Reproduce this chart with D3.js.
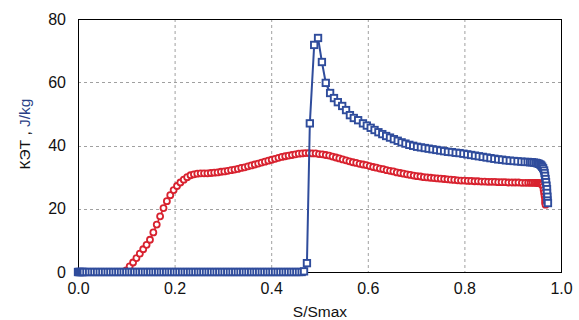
<!DOCTYPE html>
<html><head><meta charset="utf-8">
<script src="https://cdn.jsdelivr.net/npm/d3@7"></script>
<style>body{margin:0;background:#fff}svg{display:block}text{font-family:"Liberation Sans",Arial,sans-serif}</style>
</head><body>
<svg id="c" width="579" height="320"></svg>
<script>
const xTicks=[0,0.2,0.4,0.6,0.8,1.0];
const yTicks=[0,20,40,60,80];
const xTickLabels=["0.0","0.2","0.4","0.6","0.8","1.0"];
const yTickLabels=["0","20","40","60","80"];

const redX=[0.100,0.107,0.114,0.121,0.128,0.135,0.142,0.149,0.156,0.163,0.170,0.177,0.184,0.191,0.198,0.205,0.212,0.219,0.226,0.233,0.240,0.247,0.254,0.261,0.268,0.275,0.282,0.289,0.296,0.303,0.310,0.317,0.324,0.331,0.338,0.345,0.352,0.359,0.366,0.373,0.380,0.387,0.394,0.401,0.408,0.415,0.422,0.429,0.436,0.443,0.450,0.457,0.464,0.471,0.478,0.485,0.492,0.499,0.506,0.513,0.520,0.527,0.534,0.541,0.548,0.555,0.562,0.569,0.576,0.583,0.590,0.597,0.604,0.611,0.618,0.625,0.632,0.639,0.646,0.653,0.660,0.667,0.674,0.681,0.688,0.695,0.702,0.709,0.716,0.723,0.730,0.737,0.744,0.751,0.758,0.765,0.772,0.779,0.786,0.793,0.800,0.807,0.814,0.821,0.828,0.835,0.842,0.849,0.856,0.863,0.870,0.877,0.884,0.891,0.898,0.905,0.912,0.919,0.926,0.932,0.937,0.941,0.945,0.948,0.951,0.953,0.955,0.957,0.959,0.961,0.963,0.964,0.965,0.966,0.967,0.967,0.968];
const redY=[0.5,1.8,3.0,4.4,5.8,7.2,8.6,10.2,12.5,15.0,17.6,20.2,22.4,24.3,25.9,27.2,28.3,29.2,30.0,30.6,30.9,31.1,31.2,31.2,31.2,31.3,31.4,31.5,31.7,31.8,32.0,32.2,32.4,32.6,32.9,33.1,33.4,33.7,34.0,34.3,34.6,34.9,35.2,35.5,35.8,36.1,36.4,36.6,36.8,37.0,37.2,37.4,37.5,37.6,37.6,37.5,37.5,37.3,37.2,37.0,36.8,36.5,36.2,35.9,35.6,35.3,35.0,34.7,34.5,34.2,34.0,33.8,33.5,33.2,33.0,32.7,32.5,32.2,32.0,31.8,31.5,31.3,31.1,30.9,30.7,30.5,30.3,30.2,30.0,29.9,29.8,29.7,29.6,29.5,29.4,29.3,29.2,29.1,29.0,28.9,28.9,28.8,28.8,28.7,28.7,28.6,28.6,28.5,28.5,28.5,28.4,28.4,28.4,28.3,28.3,28.3,28.3,28.2,28.2,28.2,28.2,28.2,28.2,28.2,28.2,28.1,28.1,28.0,27.9,27.6,27.0,26.0,25.0,24.0,23.0,22.0,21.3];

const blueX=[0,0.002,0.004,0.006,0.008,0.010,0.012,0.0175,0.023,0.0285,0.034,0.0395,0.045,0.0505,0.056,0.0615,0.067,0.0725,0.078,0.0835,0.089,0.0945,0.100,0.1055,0.111,0.1165,0.122,0.1275,0.133,0.1385,0.144,0.1495,0.155,0.1605,0.166,0.1715,0.177,0.1825,0.188,0.1935,0.199,0.2045,0.210,0.2155,0.221,0.2265,0.232,0.2375,0.243,0.2485,0.254,0.2595,0.265,0.2705,0.276,0.2815,0.287,0.2925,0.298,0.3035,0.309,0.3145,0.320,0.3255,0.331,0.3365,0.342,0.3475,0.353,0.3585,0.364,0.3695,0.375,0.3805,0.386,0.3915,0.397,0.4025,0.408,0.4135,0.419,0.4245,0.430,0.4355,0.441,0.4465,0.452,0.4575,0.463,0.468,0.474,0.480,0.489,0.497,0.505,0.513,0.522,0.530,0.538,0.547,0.555,0.563,0.571,0.580,0.590,0.598,0.606,0.614,0.622,0.630,0.638,0.646,0.654,0.662,0.670,0.678,0.686,0.694,0.702,0.710,0.718,0.726,0.734,0.742,0.750,0.758,0.766,0.774,0.782,0.790,0.798,0.806,0.814,0.822,0.830,0.838,0.846,0.854,0.862,0.870,0.878,0.886,0.894,0.902,0.910,0.918,0.925,0.931,0.936,0.940,0.944,0.948,0.951,0.954,0.957,0.959,0.961,0.963,0.965,0.966,0.967,0.968,0.969,0.970,0.971,0.971,0.972,0.972,0.973];
const blueY=[0,0,0,0,0,0,0,0,0,0,0,0,0,0,0,0,0,0,0,0,0,0,0,0,0,0,0,0,0,0,0,0,0,0,0,0,0,0,0,0,0,0,0,0,0,0,0,0,0,0,0,0,0,0,0,0,0,0,0,0,0,0,0,0,0,0,0,0,0,0,0,0,0,0,0,0,0,0,0,0,0,0,0,0,0,0,0,0,0,0.2,2.8,47.0,71.8,74.0,66.4,59.8,56.6,55.0,53.7,52.5,51.2,49.6,48.7,48.0,47.0,46.3,45.6,44.9,44.2,43.6,43.0,42.5,42.0,41.5,41.0,40.6,40.2,39.9,39.6,39.4,39.2,39.0,38.8,38.6,38.4,38.2,38.0,37.9,37.7,37.6,37.4,37.2,37.0,36.8,36.6,36.4,36.2,36.0,35.8,35.6,35.5,35.3,35.2,35.1,35.0,34.9,34.8,34.8,34.7,34.7,34.6,34.5,34.4,34.2,34.0,33.7,33.3,32.8,32.1,31.3,30.4,29.4,28.4,27.3,26.2,25.0,23.8,22.6,21.8];

const blue="#2f4c9c", red="#d8222f";
const svg=d3.select("#c");
const L=78,R=561,T=19,B=272;
const x=d3.scaleLinear().domain([0,1]).range([L,R]);
const y=d3.scaleLinear().domain([0,80]).range([B,T]);

// grid
svg.append("g").selectAll("line").data(xTicks.filter(v=>v>0&&v<1)).join("line")
  .attr("x1",d=>x(d)+0.5).attr("x2",d=>x(d)+0.5).attr("y1",T).attr("y2",B)
  .attr("stroke","#a0a0a0").attr("stroke-width",1).attr("stroke-dasharray","3,3");
svg.append("g").selectAll("line").data(yTicks.filter(v=>v>0&&v<80)).join("line")
  .attr("y1",d=>Math.round(y(d))+0.5).attr("y2",d=>Math.round(y(d))+0.5).attr("x1",L).attr("x2",R)
  .attr("stroke","#a0a0a0").attr("stroke-width",1).attr("stroke-dasharray","3,3");

// frame
svg.append("rect").attr("x",L+0.5).attr("y",T+0.5).attr("width",R-L).attr("height",B-T)
  .attr("fill","none").attr("stroke","#000").attr("stroke-width",1);

const xa=svg.append("g").attr("transform",`translate(0,${B})`)
  .call(d3.axisBottom(x).tickValues(xTicks).tickFormat((d,i)=>xTickLabels[i]).tickSize(0).tickPadding(11));
const ya=svg.append("g").attr("transform",`translate(${L},0)`)
  .call(d3.axisLeft(y).tickValues(yTicks).tickFormat((d,i)=>yTickLabels[i]).tickSize(0).tickPadding(12));
[xa,ya].forEach(a=>{a.select(".domain").remove();a.selectAll("text").attr("font-size",16).attr("fill","#111").style("font-family","'Liberation Sans',Arial,sans-serif");});

svg.append("text").attr("x",320).attr("y",317).attr("text-anchor","middle").attr("font-size",15.5).attr("fill","#111").text("S/Smax");
const yl=svg.append("text").attr("transform","translate(30,134) rotate(-90)").attr("text-anchor","middle").attr("font-size",15.5).attr("fill","#111");
yl.append("tspan").text("КЭТ , ");
yl.append("tspan").attr("fill","#2a3f86").text("J/kg");

const redData=redX.map((v,i)=>[v,redY[i]]);
const blueData=blueX.map((v,i)=>[v,blueY[i]]);
const line=d3.line().x(d=>x(d[0])).y(d=>y(d[1]));

svg.append("path").datum(redData).attr("d",line).attr("fill","none").attr("stroke",red).attr("stroke-width",1.5);
svg.append("g").selectAll("circle").data(redData).join("circle")
  .attr("cx",d=>x(d[0])).attr("cy",d=>y(d[1])).attr("r",3)
  .attr("fill","#fff").attr("stroke",red).attr("stroke-width",1.8);

svg.append("path").datum(blueData).attr("d",line).attr("fill","none").attr("stroke",blue).attr("stroke-width",2);
const s=6.4;
svg.append("g").selectAll("rect").data(blueData).join("rect")
  .attr("x",d=>x(d[0])-s/2).attr("y",d=>y(d[1])-s/2).attr("width",s).attr("height",s)
  .attr("fill","#fff").attr("stroke",blue).attr("stroke-width",1.9);
</script>
</body></html>
